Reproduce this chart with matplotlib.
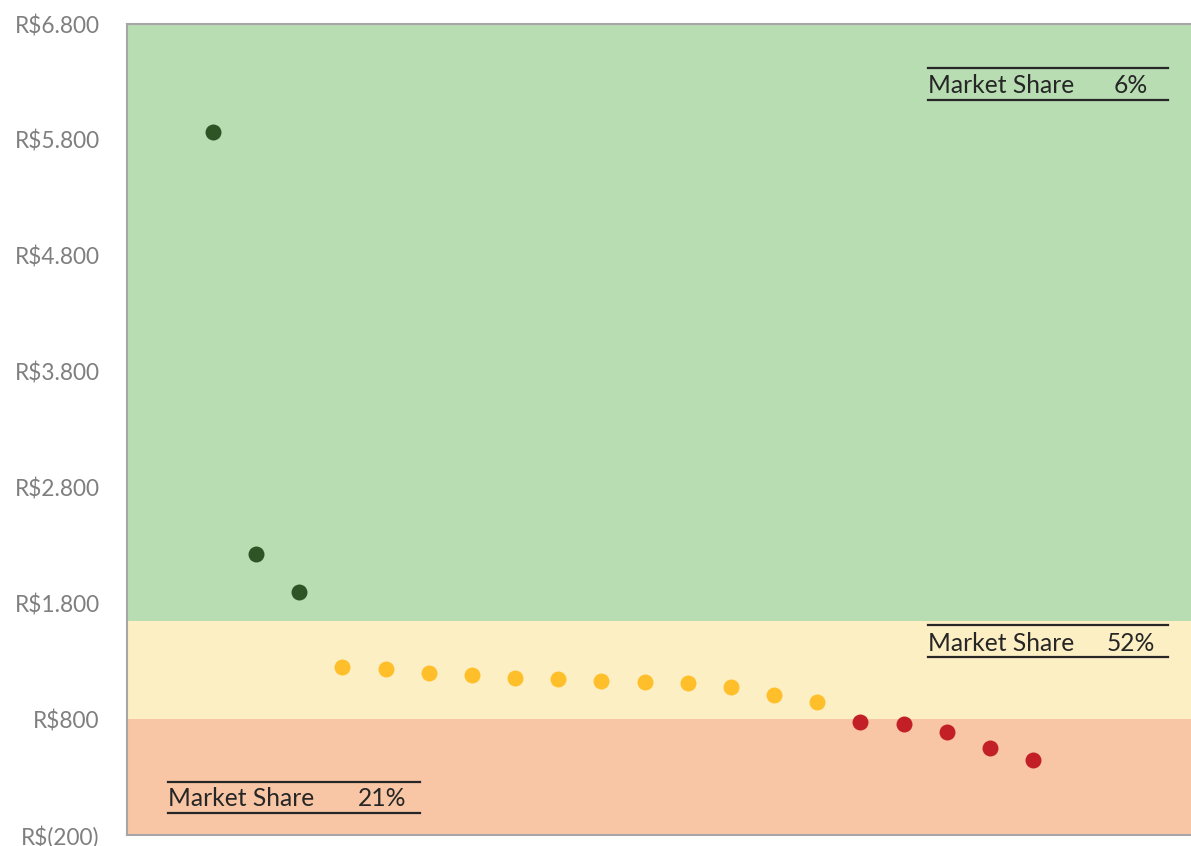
import matplotlib
matplotlib.use("Agg")
import matplotlib.pyplot as plt
from matplotlib.lines import Line2D

# ---- data ----
ranks = list(range(1, 21))
values = [5870, 2225, 1895, 1253, 1233, 1198, 1181, 1158, 1146, 1129,
          1123, 1115, 1077, 1008, 945, 773, 761, 686, 554, 447]
groups = ["high"] * 3 + ["mid"] * 12 + ["low"] * 5
band_edges = [-200, 800, 1650, 6800]          # low / mid / high zones
band_names = ["low", "mid", "high"]
market_share = {"high": "6%", "mid": "52%", "low": "21%"}
yticks = [-200, 800, 1800, 2800, 3800, 4800, 5800, 6800]
ytick_labels = ["R$(200)", "R$800", "R$1.800", "R$2.800", "R$3.800",
                "R$4.800", "R$5.800", "R$6.800"]

# ---- style ----
band_colors = {"high": "#B8DDB3", "mid": "#FDEFC4", "low": "#F8C6A5"}
point_colors = {"high": "#2E5426", "mid": "#FFBF2B", "low": "#C21F26"}

W, H = 1191, 846
fig = plt.figure(figsize=(W / 100, H / 100), dpi=100)
ax = fig.add_axes([126.7 / W, (H - 835) / H, 1 - 126.7 / W, (835 - 24) / H])

for i, name in enumerate(band_names):
    ax.axhspan(band_edges[i], band_edges[i + 1], color=band_colors[name],
               zorder=0, lw=0)

for name in band_names:
    xs = [r for r, g in zip(ranks, groups) if g == name]
    ys = [v for v, g in zip(values, groups) if g == name]
    ax.plot(xs, ys, "o", color=point_colors[name], markersize=11.5,
            markeredgewidth=0, zorder=3)

ax.set_xlim(-1, 23.66)
ax.set_ylim(band_edges[0], band_edges[-1])
ax.set_yticks(yticks)
ax.set_yticklabels(ytick_labels, fontfamily="Lato", fontsize=16.3,
                   color="#7F7F7F")
ax.set_xticks([])
ax.tick_params(axis="y", length=0, pad=19.5)
for s in ["left", "top", "bottom"]:
    ax.spines[s].set_color("#A6A6A6")
    ax.spines[s].set_linewidth(1.5)
ax.spines["right"].set_visible(False)

# ---- market share boxes (pixel positions) ----
boxes = {
    "high": (928.3, 1168.3, 68.3, 100.0, 93.3),
    "mid": (928.3, 1168.3, 625.0, 657.3, 650.7),
    "low": (168.3, 420.0, 781.7, 813.3, 805.7),
}
for name, (x0, x1, ytop, ybot, base) in boxes.items():
    for yy in (ytop, ybot):
        fig.add_artist(Line2D([x0 / W, x1 / W], [1 - yy / H, 1 - yy / H],
                              transform=fig.transFigure, color="#262626",
                              lw=1.6))
    fig.text(x0 / W, 1 - base / H, "Market Share", fontfamily="Lato",
             fontsize=17.7, color="#262626", ha="left", va="baseline")
    fig.text((x1 - 37.5) / W, 1 - base / H, market_share[name],
             fontfamily="Lato", fontsize=17.7, color="#262626",
             ha="center", va="baseline")

fig.savefig("out.png", dpi=100)
